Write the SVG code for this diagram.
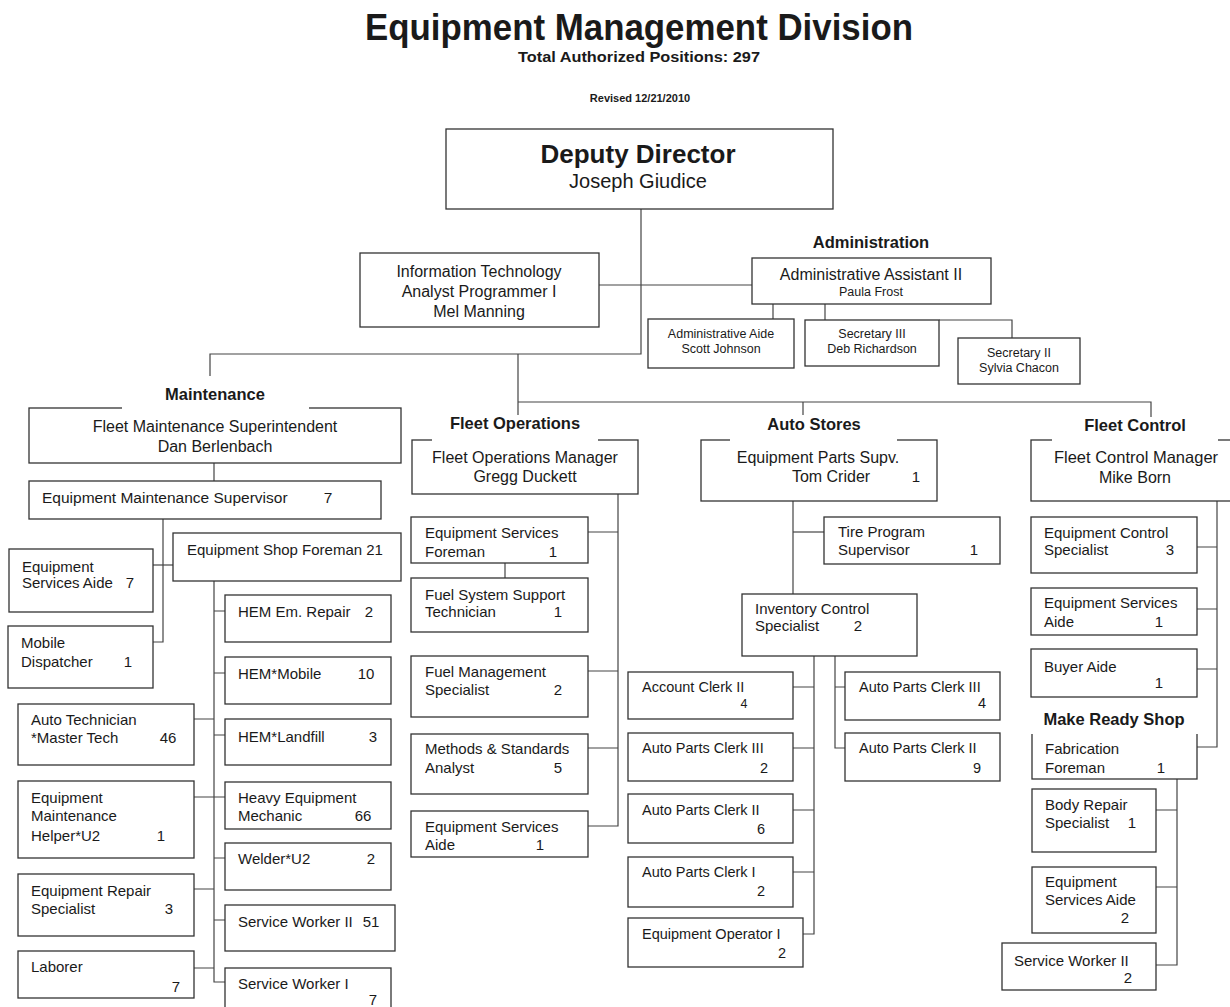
<svg xmlns="http://www.w3.org/2000/svg" width="1230" height="1007" viewBox="0 0 1230 1007">
<style>
.box{fill:#fff;stroke:#333;stroke-width:1.3}
.ln{fill:none;stroke:#444;stroke-width:1.2}
.bg{fill:#fff;stroke:none}
text{font-family:"Liberation Sans",Arial,Helvetica,sans-serif;fill:#1a1a1a}
.m{text-anchor:middle}
.t16{font-size:16px}
.t15{font-size:15px}
.t14{font-size:14.5px}
.s12{font-size:12.5px}
.lbl{font-size:16.5px;font-weight:bold;text-anchor:middle}
</style>
<rect width="1230" height="1007" fill="#fff"/>

<g id="title">
<text x="639" y="40" class="m" font-size="36" font-weight="bold" textLength="548" lengthAdjust="spacingAndGlyphs">Equipment Management Division</text>
<text x="639" y="62" class="m" font-size="14" font-weight="bold" textLength="242" lengthAdjust="spacingAndGlyphs">Total Authorized Positions: 297</text>
<text x="640" y="102" class="m" font-size="11" font-weight="bold">Revised 12/21/2010</text>
</g>

<g id="connectors">
<path class="ln" d="M641,209 V354 H210 V378"/>
<path class="ln" d="M518,354 V415"/>
<path class="ln" d="M518,402 H1151 V417"/>
<path class="ln" d="M803,402 V415"/>
<path class="ln" d="M599,285 H752"/>
<path class="ln" d="M773,304 V319"/>
<path class="ln" d="M825,304 V320"/>
<path class="ln" d="M939,320 H1012 V338"/>
<!-- maintenance -->
<path class="ln" d="M214,463 V481"/>
<path class="ln" d="M163,519 V642 H153"/>
<path class="ln" d="M153,565 H173"/>
<path class="ln" d="M214,581 V982 H225"/>
<path class="ln" d="M214,611 H225 M214,673 H225 M214,735 H225 M194,797 H225 M214,858 H225 M214,920 H225"/>
<path class="ln" d="M194,719 H214 M194,889 H214 M194,968 H214"/>
<!-- fleet operations -->
<path class="ln" d="M618,494 V826 H588"/>
<path class="ln" d="M588,532 H618 M588,671 H618 M588,748 H618"/>
<path class="ln" d="M505,563 V578"/>
<!-- auto stores -->
<path class="ln" d="M793,501 V594"/>
<path class="ln" d="M793,532 H824"/>
<path class="ln" d="M814,656 V934 H803"/>
<path class="ln" d="M793,687 H814 M793,748 H814 M793,810 H814 M793,872 H814"/>
<path class="ln" d="M835,656 V748 H845 M835,687 H845"/>
<!-- fleet control -->
<path class="ln" d="M1217,501 V747 H1197"/>
<path class="ln" d="M1197,547 H1217 M1197,609 H1217 M1197,669 H1217"/>
<path class="ln" d="M1177,779 V965 H1156"/>
<path class="ln" d="M1156,810 H1177 M1156,887 H1177"/>
</g>

<g id="deputy-director">
<rect class="box" x="446" y="129" width="387" height="80"/>
<text x="638" y="163" class="m" font-size="26" font-weight="bold">Deputy Director</text>
<text x="638" y="188" class="m" font-size="20">Joseph Giudice</text>
</g>

<g id="it">
<rect class="box" x="360" y="253" width="239" height="74"/>
<text x="479" y="277" class="m t16">Information Technology</text>
<text x="479" y="297" class="m t16">Analyst Programmer I</text>
<text x="479" y="317" class="m t16">Mel Manning</text>
</g>

<g id="admin-assistant">
<rect class="box" x="752" y="258" width="239" height="46"/>
<rect class="bg" x="793" y="232" width="155" height="25"/>
<text x="871" y="248" class="lbl">Administration</text>
<text x="871" y="280" class="m t16">Administrative Assistant II</text>
<text x="871" y="296" class="m s12">Paula Frost</text>
</g>

<g id="admin-aide">
<rect class="box" x="648" y="319" width="146" height="49"/>
<text x="721" y="338" class="m s12">Administrative Aide</text>
<text x="721" y="353" class="m s12">Scott Johnson</text>
</g>

<g id="secretary-3">
<rect class="box" x="805" y="320" width="134" height="46"/>
<text x="872" y="338" class="m s12">Secretary III</text>
<text x="872" y="353" class="m s12">Deb Richardson</text>
</g>

<g id="secretary-2">
<rect class="box" x="958" y="338" width="122" height="46"/>
<text x="1019" y="357" class="m s12">Secretary II</text>
<text x="1019" y="372" class="m s12">Sylvia Chacon</text>
</g>

<!-- Maintenance -->
<g id="fleet-maintenance-superintendent">
<rect class="box" x="29" y="408" width="372" height="55"/>
<rect class="bg" x="122" y="376" width="187" height="33"/>
<text x="215" y="400" class="lbl">Maintenance</text>
<text x="215" y="432" class="m t16">Fleet Maintenance Superintendent</text>
<text x="215" y="452" class="m t16">Dan Berlenbach</text>
</g>

<g id="equipment-maintenance-supervisor">
<rect class="box" x="29" y="481" width="352" height="38"/>
<text x="42" y="503" font-size="15.5">Equipment Maintenance Supervisor</text>
<text x="328" y="503" class="m" font-size="15.5">7</text>
</g>

<g id="equipment-services-aide-m">
<rect class="box" x="9" y="549" width="144" height="63"/>
<text x="22" y="572" class="t15">Equipment</text>
<text x="22" y="588" class="t15">Services Aide</text>
<text x="130" y="588" class="m t15">7</text>
</g>

<g id="equipment-shop-foreman">
<rect class="box" x="173" y="533" width="228" height="48"/>
<text x="187" y="555" class="t15">Equipment Shop Foreman 21</text>
</g>

<g id="mobile-dispatcher">
<rect class="box" x="8" y="626" width="145" height="62"/>
<text x="21" y="648" class="t15">Mobile</text>
<text x="21" y="667" class="t15">Dispatcher</text>
<text x="128" y="667" class="m t15">1</text>
</g>

<g id="hem-em-repair">
<rect class="box" x="225" y="595" width="166" height="47"/>
<text x="238" y="617" class="t15">HEM Em. Repair</text>
<text x="369" y="617" class="m t15">2</text>
</g>

<g id="hem-mobile">
<rect class="box" x="225" y="657" width="166" height="47"/>
<text x="238" y="679" class="t15">HEM*Mobile</text>
<text x="366" y="679" class="m t15">10</text>
</g>

<g id="hem-landfill">
<rect class="box" x="225" y="719" width="166" height="46"/>
<text x="238" y="742" class="t15">HEM*Landfill</text>
<text x="373" y="742" class="m t15">3</text>
</g>

<g id="heavy-equipment-mechanic">
<rect class="box" x="225" y="782" width="166" height="47"/>
<text x="238" y="803" class="t15">Heavy Equipment</text>
<text x="238" y="821" class="t15">Mechanic</text>
<text x="363" y="821" class="m t15">66</text>
</g>

<g id="welder">
<rect class="box" x="225" y="843" width="166" height="47"/>
<text x="238" y="864" class="t15">Welder*U2</text>
<text x="371" y="864" class="m t15">2</text>
</g>

<g id="service-worker-2-m">
<rect class="box" x="225" y="905" width="170" height="46"/>
<text x="238" y="927" class="t15">Service Worker II</text>
<text x="371" y="927" class="m t15">51</text>
</g>

<g id="service-worker-1-m">
<rect class="box" x="225" y="968" width="166" height="50"/>
<text x="238" y="989" class="t15">Service Worker I</text>
<text x="373" y="1005" class="m t15">7</text>
</g>

<g id="auto-technician">
<rect class="box" x="18" y="704" width="176" height="61"/>
<text x="31" y="725" class="t15">Auto Technician</text>
<text x="31" y="743" class="t15">*Master Tech</text>
<text x="168" y="743" class="m t15">46</text>
</g>

<g id="equipment-maintenance-helper">
<rect class="box" x="18" y="781" width="176" height="77"/>
<text x="31" y="803" class="t15">Equipment</text>
<text x="31" y="821" class="t15">Maintenance</text>
<text x="31" y="841" class="t15">Helper*U2</text>
<text x="161" y="841" class="m t15">1</text>
</g>

<g id="equipment-repair-specialist">
<rect class="box" x="18" y="874" width="176" height="62"/>
<text x="31" y="896" class="t15">Equipment Repair</text>
<text x="31" y="914" class="t15">Specialist</text>
<text x="169" y="914" class="m t15">3</text>
</g>

<g id="laborer">
<rect class="box" x="18" y="951" width="176" height="47"/>
<text x="31" y="972" class="t15">Laborer</text>
<text x="176" y="992" class="m t15">7</text>
</g>

<!-- Fleet Operations -->
<g id="fleet-operations-manager">
<rect class="box" x="412" y="440" width="226" height="54"/>
<rect class="bg" x="432" y="415" width="166" height="26"/>
<text x="515" y="429" class="lbl">Fleet Operations</text>
<text x="525" y="463" class="m t16">Fleet Operations Manager</text>
<text x="525" y="482" class="m t16">Gregg Duckett</text>
</g>

<g id="equipment-services-foreman">
<rect class="box" x="411" y="517" width="177" height="46"/>
<text x="425" y="538" class="t15">Equipment Services</text>
<text x="425" y="557" class="t15">Foreman</text>
<text x="553" y="557" class="m t15">1</text>
</g>

<g id="fuel-system-support-technician">
<rect class="box" x="411" y="578" width="177" height="54"/>
<text x="425" y="600" class="t15">Fuel System Support</text>
<text x="425" y="617" class="t15">Technician</text>
<text x="558" y="617" class="m t15">1</text>
</g>

<g id="fuel-management-specialist">
<rect class="box" x="411" y="656" width="177" height="61"/>
<text x="425" y="677" class="t15">Fuel Management</text>
<text x="425" y="695" class="t15">Specialist</text>
<text x="558" y="695" class="m t15">2</text>
</g>

<g id="methods-standards-analyst">
<rect class="box" x="411" y="734" width="177" height="60"/>
<text x="425" y="754" class="t15">Methods &amp; Standards</text>
<text x="425" y="773" class="t15">Analyst</text>
<text x="558" y="773" class="m t15">5</text>
</g>

<g id="equipment-services-aide-fo">
<rect class="box" x="411" y="811" width="177" height="46"/>
<text x="425" y="832" class="t15">Equipment Services</text>
<text x="425" y="850" class="t15">Aide</text>
<text x="540" y="850" class="m t15">1</text>
</g>

<!-- Auto Stores -->
<g id="equipment-parts-supv">
<rect class="box" x="701" y="440" width="236" height="61"/>
<rect class="bg" x="730" y="415" width="167" height="26"/>
<text x="814" y="430" class="lbl">Auto Stores</text>
<text x="818" y="463" class="m t16">Equipment Parts Supv.</text>
<text x="831" y="482" class="m t16">Tom Crider</text>
<text x="916" y="482" class="m t15">1</text>
</g>

<g id="tire-program-supervisor">
<rect class="box" x="824" y="517" width="176" height="47"/>
<text x="838" y="537" class="t15">Tire Program</text>
<text x="838" y="555" class="t15">Supervisor</text>
<text x="974" y="555" class="m t15">1</text>
</g>

<g id="inventory-control-specialist">
<rect class="box" x="742" y="594" width="175" height="62"/>
<text x="755" y="614" class="t15">Inventory Control</text>
<text x="755" y="631" class="t15">Specialist</text>
<text x="858" y="631" class="m t15">2</text>
</g>

<g id="account-clerk-2">
<rect class="box" x="628" y="672" width="165" height="47"/>
<text x="642" y="692" class="t14">Account Clerk II</text>
<text x="744" y="708" class="m s12">4</text>
</g>

<g id="auto-parts-clerk-3-left">
<rect class="box" x="628" y="733" width="165" height="48"/>
<text x="642" y="753" class="t14">Auto Parts Clerk III</text>
<text x="764" y="773" class="m t14">2</text>
</g>

<g id="auto-parts-clerk-2-left">
<rect class="box" x="628" y="794" width="165" height="49"/>
<text x="642" y="815" class="t14">Auto Parts Clerk II</text>
<text x="761" y="834" class="m t14">6</text>
</g>

<g id="auto-parts-clerk-1">
<rect class="box" x="628" y="857" width="165" height="50"/>
<text x="642" y="877" class="t14">Auto Parts Clerk I</text>
<text x="761" y="896" class="m t14">2</text>
</g>

<g id="equipment-operator-1">
<rect class="box" x="628" y="918" width="175" height="49"/>
<text x="642" y="939" class="t14">Equipment Operator I</text>
<text x="782" y="958" class="m t14">2</text>
</g>

<g id="auto-parts-clerk-3-right">
<rect class="box" x="845" y="672" width="155" height="48"/>
<text x="859" y="692" class="t14">Auto Parts Clerk III</text>
<text x="982" y="708" class="m t14">4</text>
</g>

<g id="auto-parts-clerk-2-right">
<rect class="box" x="845" y="733" width="155" height="48"/>
<text x="859" y="753" class="t14">Auto Parts Clerk II</text>
<text x="977" y="773" class="m t14">9</text>
</g>

<!-- Fleet Control -->
<g id="fleet-control-manager">
<rect class="box" x="1031" y="440" width="210" height="61"/>
<rect class="bg" x="1052" y="417" width="166" height="24"/>
<text x="1135" y="431" class="lbl">Fleet Control</text>
<text x="1136" y="463" class="m" font-size="16.5">Fleet Control Manager</text>
<text x="1135" y="483" class="m t16">Mike Born</text>
</g>

<g id="equipment-control-specialist">
<rect class="box" x="1031" y="517" width="166" height="56"/>
<text x="1044" y="538" class="t15">Equipment Control</text>
<text x="1044" y="555" class="t15">Specialist</text>
<text x="1170" y="555" class="m t15">3</text>
</g>

<g id="equipment-services-aide-fc">
<rect class="box" x="1031" y="588" width="166" height="47"/>
<text x="1044" y="608" class="t15">Equipment Services</text>
<text x="1044" y="627" class="t15">Aide</text>
<text x="1159" y="627" class="m t15">1</text>
</g>

<g id="buyer-aide">
<rect class="box" x="1031" y="649" width="166" height="48"/>
<text x="1044" y="672" class="t15">Buyer Aide</text>
<text x="1159" y="688" class="m t15">1</text>
</g>

<g id="fabrication-foreman">
<rect class="box" x="1032" y="733" width="165" height="46"/>
<rect class="bg" x="1028" y="706" width="173" height="28"/>
<text x="1114" y="725" class="lbl">Make Ready Shop</text>
<text x="1045" y="754" class="t15">Fabrication</text>
<text x="1045" y="773" class="t15">Foreman</text>
<text x="1161" y="773" class="m t15">1</text>
</g>

<g id="body-repair-specialist">
<rect class="box" x="1032" y="789" width="124" height="63"/>
<text x="1045" y="810" class="t15">Body Repair</text>
<text x="1045" y="828" class="t15">Specialist</text>
<text x="1132" y="828" class="m t15">1</text>
</g>

<g id="equipment-services-aide-mr">
<rect class="box" x="1032" y="867" width="124" height="66"/>
<text x="1045" y="887" class="t15">Equipment</text>
<text x="1045" y="905" class="t15">Services Aide</text>
<text x="1125" y="923" class="m t15">2</text>
</g>

<g id="service-worker-2-mr">
<rect class="box" x="1002" y="943" width="154" height="47"/>
<text x="1014" y="966" class="t15">Service Worker II</text>
<text x="1128" y="983" class="m t15">2</text>
</g>
</svg>
